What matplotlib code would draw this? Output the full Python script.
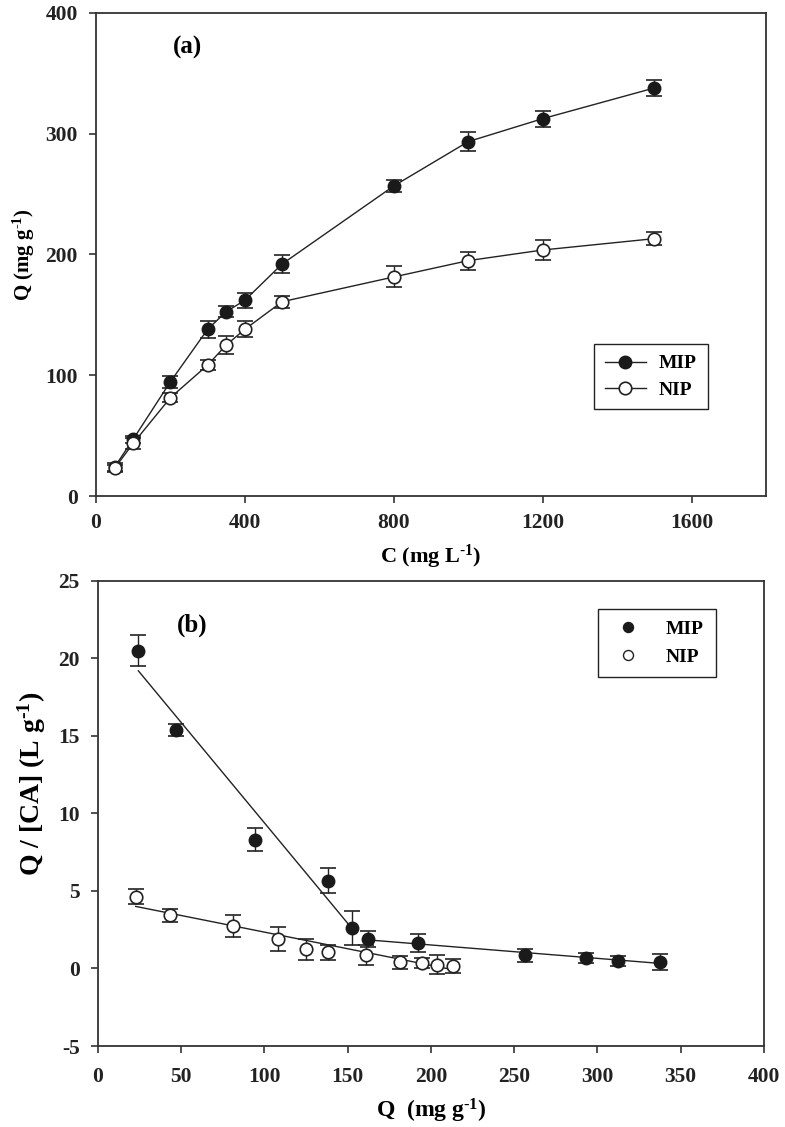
import numpy as np
import matplotlib
matplotlib.use('Agg')
import matplotlib.pyplot as plt

plt.rcParams['font.family'] = ['Liberation Serif', 'DejaVu Serif']
plt.rcParams['font.weight'] = 'bold'
plt.rcParams['mathtext.fontset'] = 'custom'
plt.rcParams['mathtext.rm'] = 'Liberation Serif:bold'
plt.rcParams['mathtext.default'] = 'regular'
plt.rcParams['axes.unicode_minus'] = False

# Panel (a): adsorption isotherm
conc = [50, 100, 200, 300, 350, 400, 500, 800, 1000, 1200, 1500]
q_mip = [24, 47, 94.6, 138, 152.6, 162, 192, 256.6, 293.3, 312.3, 337.7]
q_mip_err = [3, 3, 5, 7, 4.7, 6, 7.3, 4.8, 8, 6.5, 6.9]
q_nip = [23, 43.6, 81.4, 108.4, 125, 138, 160.8, 181.3, 194.8, 203.6, 213]
q_nip_err = [3, 4.5, 4, 4, 7.6, 6.5, 4.8, 8.7, 7.4, 8.4, 5.4]

# Panel (b): Scatchard plot
sc_mip = [20.48, 15.36, 8.31, 5.67, 2.63, 1.9, 1.64, 0.86, 0.67, 0.48, 0.39]
sc_mip_err = [1.0, 0.38, 0.73, 0.8, 1.1, 0.52, 0.59, 0.42, 0.3, 0.3, 0.52]
sc_nip = [4.63, 3.42, 2.74, 1.9, 1.23, 1.03, 0.86, 0.39, 0.35, 0.24, 0.16]
sc_nip_err = [0.5, 0.4, 0.7, 0.79, 0.7, 0.5, 0.62, 0.4, 0.35, 0.6, 0.43]

# fitted lines (endpoints)
fit_mip1_x = [24.4, 150.4]
fit_mip1_y = [19.19, 2.87]
fit_mip2_x = [160, 337]
fit_mip2_y = [1.86, 0.33]
fit_nip_x = [22.8, 214]
fit_nip_y = [4.0, -0.1]

W, H = 785, 1127
fig = plt.figure(figsize=(W / 100, H / 100), dpi=100)

ax1 = fig.add_axes([96 / W, 1 - 496 / H, 670 / W, 483.3 / H])
ax2 = fig.add_axes([97.7 / W, 1 - 1046 / H, 666.3 / W, 465.3 / H])

edge = '#333333'
ms = 9
sup = '$^{\\text{-1}}$'
err_kw = dict(ecolor='#222222', elinewidth=1.0, capsize=6, capthick=1.2)
leg_kw = dict(loc='upper left', bbox_transform=fig.transFigure, fancybox=False,
              edgecolor='#222222', framealpha=1, borderaxespad=0,
              prop={'size': 14, 'weight': 'bold'})

# ---- (a)
ax1.errorbar(conc, q_mip, yerr=q_mip_err, color='#222222', lw=1.0,
             marker='o', ms=ms, mfc='#1a1a1a', mec='#1a1a1a', label='MIP', **err_kw)
ax1.errorbar(conc, q_nip, yerr=q_nip_err, color='#222222', lw=1.0,
             marker='o', ms=ms, mfc='white', mec='#222222', mew=1.2, label='NIP', **err_kw)
ax1.set_xlim(0, 1800)
ax1.set_ylim(0, 400)
ax1.set_xticks([0, 400, 800, 1200, 1600])
ax1.set_yticks([0, 100, 200, 300, 400])
ax1.set_xlabel('C (mg L' + sup + ')', fontsize=16, fontweight='bold', labelpad=7)
ax1.set_ylabel('Q (mg g' + sup + ')', fontsize=15, fontweight='bold')
ax1.yaxis.set_label_coords(-0.088, 0.5)
ax1.text(247, 371, '(a)', fontsize=18, fontweight='bold', ha='center', va='center')
h, l = ax1.get_legend_handles_labels()
h = [x[0] for x in h]
leg1 = ax1.legend(h, l, bbox_to_anchor=(594 / W, 1 - 344 / H),
                  handlelength=2.1, borderpad=0.55, labelspacing=0.45,
                  handletextpad=0.7, **leg_kw)
leg1.get_frame().set_linewidth(1.0)

# ---- (b)
ax2.errorbar(q_mip, sc_mip, yerr=sc_mip_err, fmt='o', ms=ms,
             mfc='#1a1a1a', mec='#1a1a1a', label='MIP', **err_kw)
ax2.errorbar(q_nip, sc_nip, yerr=sc_nip_err, fmt='o', ms=ms,
             mfc='white', mec='#222222', mew=1.2, label='NIP', **err_kw)
ax2.plot(fit_mip1_x, fit_mip1_y, color='#222222', lw=1.0)
ax2.plot(fit_mip2_x, fit_mip2_y, color='#222222', lw=1.0)
ax2.plot(fit_nip_x, fit_nip_y, color='#222222', lw=1.0)
ax2.set_xlim(0, 400)
ax2.set_ylim(-5, 25)
ax2.set_xticks(np.arange(0, 401, 50))
ax2.set_yticks(np.arange(-5, 26, 5))
ax2.set_xlabel('Q  (mg g' + sup + ')', fontsize=17, fontweight='bold', labelpad=7)
ax2.set_ylabel('Q / [CA] (L g' + sup + ')', fontsize=20, fontweight='bold')
ax2.yaxis.set_label_coords(-0.075, 0.563)
ax2.text(57, 22.1, '(b)', fontsize=18, fontweight='bold', ha='center', va='center')
h, l = ax2.get_legend_handles_labels()
h = [x[0] for x in h]
leg2 = ax2.legend(h, l, bbox_to_anchor=(598 / W, 1 - 609 / H),
                  handlelength=1.9, borderpad=0.6, labelspacing=0.5,
                  handletextpad=1.0, markerscale=0.8, **leg_kw)
leg2.get_frame().set_linewidth(1.0)
for lh in leg2.legend_handles:
    lh.set_markeredgewidth(1.0)

for ax, xpad in ((ax1, 7), (ax2, 10)):
    for s in ax.spines.values():
        s.set_linewidth(1.3)
        s.set_color(edge)
    ax.tick_params(direction='out', length=5, width=1.2, color=edge,
                   labelsize=15.5, top=False, right=False)
    ax.tick_params(axis='x', pad=xpad)
    ax.tick_params(axis='y', pad=8)
    for t in ax.get_xticklabels() + ax.get_yticklabels():
        t.set_fontweight('bold')
        t.set_color('#222222')

fig.savefig('out.png', dpi=100)
